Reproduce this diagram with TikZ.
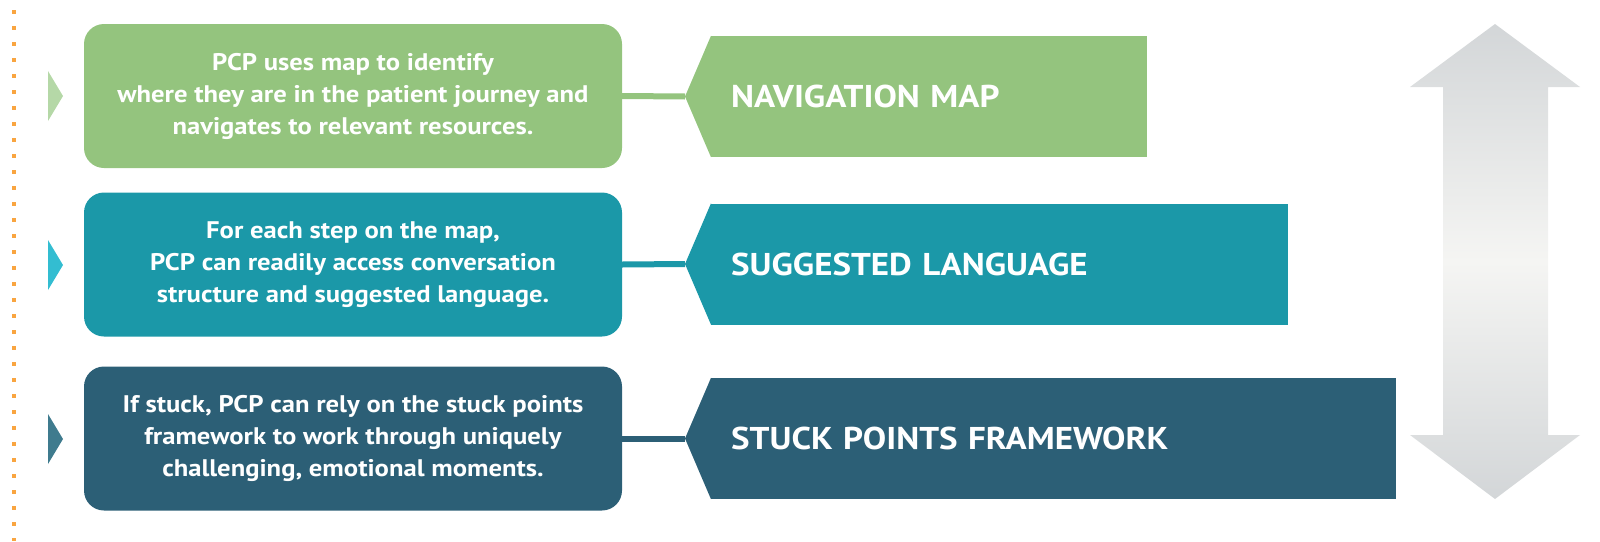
\documentclass[tikz,border=0pt]{standalone}
\usepackage{fontspec}
\setmainfont{PT Sans}[FakeStretch=1.11]
\usetikzlibrary{positioning}
\definecolor{navgreen}{HTML}{94C47E}
\definecolor{langteal}{HTML}{1B98A8}
\definecolor{stuckblue}{HTML}{2C5F76}
\definecolor{navlight}{HTML}{B5D8A7}
\definecolor{langlight}{HTML}{33BDD1}
\definecolor{stucklight}{HTML}{3F7B8E}
\definecolor{dotorange}{HTML}{F9A540}
\definecolor{arrowgray}{HTML}{D3D6D8}
\definecolor{arrowlight}{HTML}{F5F5F3}
\begin{document}
\begin{tikzpicture}[x=1pt, y=-1pt,
  box/.style={rounded corners=20pt, minimum width=538pt, minimum height=144pt, text=white, align=center, font=\bfseries\fontsize{24}{32}\selectfont},
  banner/.style={anchor=west, minimum height=121pt, inner xsep=20pt, text width=#1, text=white, align=left, font=\bfseries\fontsize{31.5}{36}\selectfont},
  link/.style={line width=6pt},
  dots/.style={draw=dotorange, line width=4pt, dash pattern=on 4pt off 12pt}]
\useasboundingbox (0,0) rectangle (1600,541);
% dotted guide on the left
\draw[dots] (14,10) -- (14,541);
% left boxes
\node[box, fill=navgreen] (box1) at (353,96) {PCP uses map to identify\\ where they are in the patient journey and\\ navigates to relevant resources.};
\node[box, fill=langteal] (box2) at (353,264.5) {For each step on the map,\\ PCP can readily access conversation\\ structure and suggested language.};
\node[box, fill=stuckblue] (box3) at (353,438.5) {If stuck, PCP can rely on the stuck points\\ framework to work through uniquely\\ challenging, emotional moments.};
% small triangles
\fill[navlight] (48,71) -- (63,96) -- (48,121) -- cycle;
\fill[langlight] (48,240) -- (63,265) -- (48,290) -- cycle;
\fill[stucklight] (48,414) -- (63,439) -- (48,464) -- cycle;
% banners
\node[banner=396pt, fill=navgreen] (nav) at (711,96.5) {NAVIGATION MAP};
\node[banner=537pt, fill=langteal] (lang) at (711,264) {SUGGESTED LANGUAGE};
\node[banner=645pt, fill=stuckblue] (stuck) at (711,438.5) {STUCK POINTS FRAMEWORK};
\fill[navgreen] (nav.north west) -- ([xshift=-26pt]nav.west) coordinate (navtip) -- (nav.south west) -- cycle;
\fill[langteal] (lang.north west) -- ([xshift=-26pt]lang.west) coordinate (langtip) -- (lang.south west) -- cycle;
\fill[stuckblue] (stuck.north west) -- ([xshift=-26pt]stuck.west) coordinate (stucktip) -- (stuck.south west) -- cycle;
% connectors
\draw[link, navgreen] (box1.east) -- (navtip);
\draw[link, langteal] (box2.east) -- (langtip);
\draw[link, stuckblue] (box3.east) -- (stucktip);
% double arrow on the right
\shade[top color=arrowgray, bottom color=arrowgray, middle color=arrowlight]
  (1495,24) -- (1580,87) -- (1548,87) -- (1548,435) -- (1580,435) -- (1495,499)
  -- (1410,435) -- (1443,435) -- (1443,87) -- (1410,87) -- cycle;
\end{tikzpicture}
\end{document}
